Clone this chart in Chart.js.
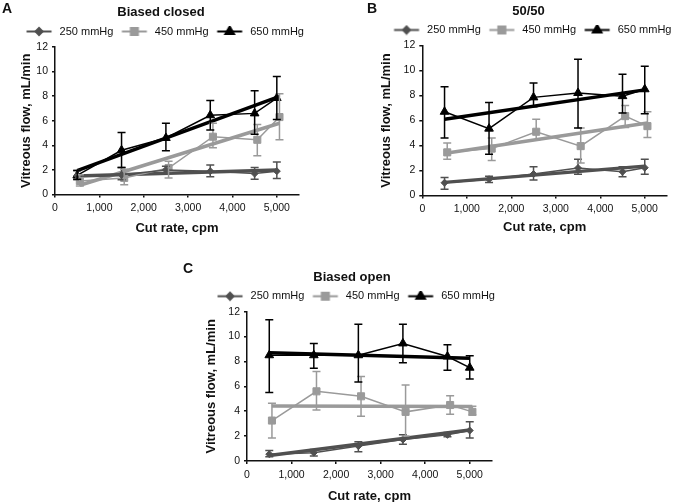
<!DOCTYPE html>
<html lang="en">
<head>
  <meta charset="UTF-8">
  <title>Vitreous flow vs cut rate</title>
  <style>
    body {
      margin: 0;
      width: 675px;
      height: 502px;
      position: relative;
      overflow: hidden;
      background: #fff;
      font-family: 'Liberation Sans', Arial, sans-serif;
    }

    canvas {
      position: absolute;
    }

    .letter {
      position: absolute;
      font-size: 14px;
      line-height: 14px;
      font-weight: bold;
      color: #111;
    }
  </style>
</head>
<body>
  <canvas id="chartA" width="305" height="240" style="left:0;top:0"></canvas>
  <canvas id="chartB" width="333" height="240" style="left:340px;top:0"></canvas>
  <canvas id="chartC" width="328" height="237" style="left:170px;top:265px"></canvas>
  <div class="letter" style="left:2px;top:1px">A</div>
  <div class="letter" style="left:367px;top:1px">B</div>
  <div class="letter" style="left:183px;top:261px">C</div>

  <script src="https://cdn.jsdelivr.net/npm/chart.js"></script>
  <script>
    // cut rates (cpm); the 450 mmHg markers sit slightly to the right
    const cutRate = [500, 1500, 2500, 3500, 4500, 5000];
    const cutRate450 = [560, 1560, 2560, 3560, 4560, 5060];
    const trendX = [500, 5000];
    const trendX450 = [560, 5060];
    const seriesNames = ['250 mmHg', '450 mmHg', '650 mmHg'];
    const xTicks = [0, 1000, 2000, 3000, 4000, 5000];
    const yTicks = [0, 2, 4, 6, 8, 10, 12];

    // A - Biased closed
    const closed250 = [1.55, 1.6, 2.0, 1.9, 1.7, 1.9];
    const closed250Lo = [1.2, 1.2, 1.65, 1.45, 1.25, 1.3];
    const closed250Hi = [1.95, 2.2, 2.3, 2.4, 2.2, 2.65];
    const closed250Trend = [1.5, 2.0];
    const closed450 = [1.1, 1.35, 2.15, 4.7, 4.45, 6.3];
    const closed450Lo = [0.7, 0.8, 1.35, 3.8, 3.15, 4.45];
    const closed450Hi = [1.6, 2.05, 2.7, 5.8, 5.7, 8.2];
    const closed450Trend = [0.75, 5.8];
    const closed650 = [1.55, 3.6, 4.6, 6.45, 6.6, 7.85];
    const closed650Lo = [1.25, 2.2, 3.55, 5.25, 4.9, 6.1];
    const closed650Hi = [1.95, 5.05, 5.8, 7.65, 8.45, 9.6];
    const closed650Trend = [1.95, 7.9];

    // B - 50/50
    const half250 = [1.02, 1.3, 1.72, 2.2, 1.9, 2.22];
    const half250Lo = [0.5, 1.05, 1.25, 1.7, 1.5, 1.7];
    const half250Hi = [1.45, 1.55, 2.3, 2.9, 2.3, 2.9];
    const half250Trend = [1.05, 2.35];
    const half450 = [3.45, 3.75, 5.1, 3.95, 6.35, 5.55];
    const half450Lo = [2.9, 2.8, 4.45, 2.6, 5.45, 4.65];
    const half450Hi = [4.2, 4.6, 6.1, 5.4, 7.2, 6.7];
    const half450Trend = [3.4, 5.8];
    const half650 = [6.7, 5.35, 7.85, 8.2, 7.95, 8.5];
    const half650Lo = [4.6, 3.3, 7.1, 5.4, 6.6, 6.55];
    const half650Hi = [8.7, 7.45, 9.0, 10.9, 9.7, 10.35];
    const half650Trend = [6.1, 8.45];

    // C - Biased open
    const open250 = [0.55, 0.67, 1.2, 1.72, 2.1, 2.45];
    const open250Lo = [0.35, 0.4, 0.75, 1.35, 1.95, 1.85];
    const open250Hi = [0.85, 0.92, 1.55, 2.1, 2.3, 3.15];
    const open250Trend = [0.45, 2.5];
    const open450 = [3.25, 5.6, 5.2, 3.95, 4.5, 3.95];
    const open450Lo = [1.85, 4.1, 3.6, 2.0, 3.75, 3.7];
    const open450Hi = [4.65, 7.2, 6.8, 6.1, 5.25, 4.4];
    const open450Trend = [4.42, 4.38];
    const open650 = [8.5, 8.5, 8.5, 9.45, 8.4, 7.5];
    const open650Lo = [5.5, 7.45, 6.35, 7.9, 7.3, 6.6];
    const open650Hi = [11.35, 9.45, 11.0, 11.0, 9.35, 8.45];
    const open650Trend = [8.7, 8.25];

    const colors = ['#505050', '#9a9a9a', '#000000'];
    const markers = ['rectRot', 'rect', 'triangle'];
    const markerSize = [3.5, 5, 5];

    Chart.defaults.font.family = "'Liberation Sans', Arial, sans-serif";
    Chart.defaults.color = '#111';

    // small canvases used as legend symbols: a line with the marker on it
    function legendIcon(i) {
      const c = document.createElement('canvas');
      c.width = 36;
      c.height = 11;
      const g = c.getContext('2d');
      g.strokeStyle = colors[i];
      g.fillStyle = colors[i];
      g.lineWidth = 2;
      g.beginPath();
      g.moveTo(8.5, 5.5);
      g.lineTo(33.5, 5.5);
      g.stroke();
      Chart.helpers.drawPoint(g, {pointStyle: markers[i], radius: markerSize[i], borderWidth: 1, rotation: 0}, 21, 5.5);
      return c;
    }
    const legendIcons = [0, 1, 2].map(legendIcon);

    const errorBars = {
      id: 'errorBars',
      afterDatasetsDraw(chart) {
        const {ctx, scales: {x, y}} = chart;
        chart.data.datasets.forEach(ds => {
          if (!ds.errLow) return;
          ctx.save();
          ctx.strokeStyle = ds.borderColor;
          ctx.lineWidth = 1.5;
          ds.data.forEach((pt, j) => {
            const px = x.getPixelForValue(pt.x);
            const top = y.getPixelForValue(ds.errHigh[j]);
            const bot = y.getPixelForValue(ds.errLow[j]);
            ctx.beginPath();
            ctx.moveTo(px, top);
            ctx.lineTo(px, bot);
            ctx.moveTo(px - 4, top);
            ctx.lineTo(px + 4, top);
            ctx.moveTo(px - 4, bot);
            ctx.lineTo(px + 4, bot);
            ctx.stroke();
          });
          ctx.restore();
        });
      }
    };

    function points(xs, ys) {
      return xs.map((v, i) => ({x: v, y: ys[i]}));
    }

    function seriesSet(i, xs, vals, lo, hi) {
      return {
        label: seriesNames[i],
        data: points(xs, vals),
        errLow: lo,
        errHigh: hi,
        borderColor: colors[i],
        backgroundColor: colors[i],
        borderWidth: 1.5,
        pointStyle: markers[i],
        pointRadius: markerSize[i],
        pointBorderWidth: 1,
        order: 0
      };
    }

    function trendSet(i, xs, vals) {
      return {
        label: seriesNames[i] + ' fit',
        isTrend: true,
        data: points(xs, vals),
        borderColor: colors[i],
        borderWidth: 3.5,
        pointRadius: 0,
        order: 1
      };
    }

    function makeChart(id, title, datasets, cfg) {
      new Chart(document.getElementById(id), {
        type: 'line',
        data: {datasets: datasets},
        plugins: [errorBars],
        options: {
          responsive: false,
          animation: false,
          layout: {padding: {left: cfg.padL, right: 0, top: 0, bottom: 0}},
          plugins: {
            tooltip: {enabled: false},
            title: {
              display: true,
              text: title,
              font: {size: 13, weight: 'bold'},
              padding: {top: -3.2, bottom: 5.6}
            },
            legend: {
              labels: {
                usePointStyle: true,
                pointStyleWidth: 36,
                padding: 0,
                font: {size: 11},
                generateLabels: chart => Chart.defaults.plugins.legend.labels.generateLabels(chart)
                  .filter(item => !chart.data.datasets[item.datasetIndex].isTrend)
                  .map(item => Object.assign(item, {pointStyle: legendIcons[item.datasetIndex]}))
              }
            }
          },
          scales: {
            x: {
              type: 'linear',
              min: 0,
              max: 5500,
              afterFit: s => { s.height = cfg.height - cfg.chartBottom; },
              afterBuildTicks: s => { s.ticks = xTicks.map(v => ({value: v})); },
              ticks: {
                padding: 4.5,
                maxRotation: 0,
                autoSkip: false,
                font: {size: 10.5},
                callback: v => v.toLocaleString('en-US')
              },
              grid: {drawOnChartArea: false, tickLength: 3, color: '#111', lineWidth: 1.5},
              border: {color: '#111', width: 1.5},
              title: {
                display: true,
                text: 'Cut rate, cpm',
                font: {size: 13, weight: 'bold'},
                padding: {top: 0, bottom: cfg.xTitlePad}
              }
            },
            y: {
              min: yTicks[0],
              max: yTicks[yTicks.length - 1],
              afterFit: s => { s.width = cfg.yWidth; s.paddingTop = cfg.chartTop; },
              afterBuildTicks: s => { s.ticks = yTicks.map(v => ({value: v})); },
              ticks: {padding: 4, font: {size: 10.5}},
              grid: {drawOnChartArea: false, tickLength: 3, color: '#111', lineWidth: 1.5},
              border: {color: '#111', width: 1.5},
              title: {
                display: true,
                text: 'Vitreous flow, mL/min',
                font: {size: 13, weight: 'bold'},
                padding: {top: cfg.yTitlePad, bottom: 0}
              }
            }
          }
        }
      });
    }

    makeChart('chartA', 'Biased closed', [
      seriesSet(0, cutRate, closed250, closed250Lo, closed250Hi),
      seriesSet(1, cutRate450, closed450, closed450Lo, closed450Hi),
      seriesSet(2, cutRate, closed650, closed650Lo, closed650Hi),
      trendSet(0, trendX, closed250Trend),
      trendSet(1, trendX450, closed450Trend),
      trendSet(2, trendX, closed650Trend)
    ], {height: 240, padL: 17, yWidth: 38, yTitlePad: 1.2, chartTop: 47, chartBottom: 194.5, xTitlePad: 4.2});

    makeChart('chartB', '50/50', [
      seriesSet(0, cutRate, half250, half250Lo, half250Hi),
      seriesSet(1, cutRate450, half450, half450Lo, half450Hi),
      seriesSet(2, cutRate, half650, half650Lo, half650Hi),
      trendSet(0, trendX, half250Trend),
      trendSet(1, trendX450, half450Trend),
      trendSet(2, trendX, half650Trend)
    ], {height: 240, padL: 44, yWidth: 38.3, yTitlePad: -5.3, chartTop: 45.5, chartBottom: 195.5, xTitlePad: 4.7});

    makeChart('chartC', 'Biased open', [
      seriesSet(0, cutRate, open250, open250Lo, open250Hi),
      seriesSet(1, cutRate450, open450, open450Lo, open450Hi),
      seriesSet(2, cutRate, open650, open650Lo, open650Hi),
      trendSet(0, trendX, open250Trend),
      trendSet(1, trendX450, open450Trend),
      trendSet(2, trendX, open650Trend)
    ], {height: 237, padL: 36, yWidth: 41, yTitlePad: -2.5, chartTop: 46.7, chartBottom: 196, xTitlePad: -1.8});
  </script>
</body>
</html>
